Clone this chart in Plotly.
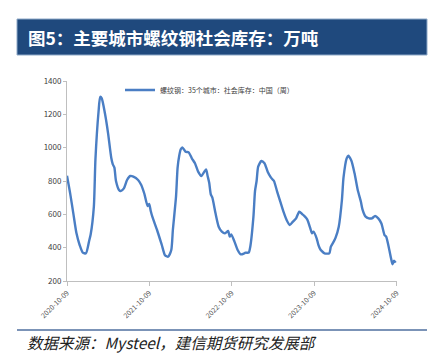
import pandas as pd
import plotly.graph_objects as go

# Week offsets from 2020-10-09 and stock values (10k tonnes)
weeks = [0, 2, 4, 6, 8, 10, 12, 14, 15, 17, 18, 20, 21, 22, 24, 26, 28, 29, 30, 31, 33, 34,
         36, 38, 40, 42, 45, 47, 49, 51, 52, 53, 54, 57, 60, 62, 64, 66, 67, 69, 70, 71,
         72, 73, 75, 77, 79, 81, 83, 85, 88, 89, 90, 91, 92, 94, 96, 98, 100, 102, 103,
         104, 106, 108, 110, 112, 113, 115, 116, 118, 119, 120, 121, 123, 125, 127, 129,
         130, 131, 133, 135, 137, 139, 141, 143, 145, 147, 149, 150, 152, 154, 155, 156,
         158, 159, 160, 161, 163, 166, 167, 169, 170, 172, 174, 175, 177, 178, 180, 182,
         184, 186, 187, 189, 191, 193, 195, 197, 199, 201, 202, 204, 205, 206, 207, 208]
values = [832, 726, 606, 486, 416, 370, 366, 440, 480, 646, 930, 1220, 1305, 1296, 1206,
          1086, 940, 900, 880, 800, 745, 740, 756, 806, 830, 826, 806, 776, 722, 650, 662,
          620, 586, 506, 416, 355, 346, 386, 506, 706, 880, 950, 990, 1002, 976, 972, 936,
          906, 856, 830, 870, 830, 790, 720, 700, 606, 526, 496, 486, 500, 466, 480, 436,
          386, 360, 365, 370, 370, 406, 586, 740, 800, 886, 920, 906, 856, 822, 810, 800,
          736, 676, 616, 566, 536, 556, 576, 616, 600, 592, 570, 516, 486, 496, 456, 420,
          396, 382, 366, 366, 406, 440, 460, 526, 686, 820, 936, 952, 922, 846, 746, 676,
          630, 586, 576, 576, 590, 576, 545, 475, 466, 386, 340, 300, 322, 310]

start = pd.Timestamp("2020-10-09")
dates = [start + pd.Timedelta(days=7 * w) for w in weeks]

tick_vals = ["2020-10-09", "2021-10-09", "2022-10-09", "2023-10-09", "2024-10-09"]
y_ticks = [200, 400, 600, 800, 1000, 1200, 1400]

series_name = "螺纹钢：35个城市：社会库存：中国（周）"
title_text = "图5：主要城市螺纹钢社会库存：万吨"
source_text = "数据来源：Mysteel，建信期货研究发展部"

fig = go.Figure()
fig.add_trace(go.Scatter(
    x=dates, y=values, mode="lines", name=series_name,
    line=dict(color="#4A7EC4", width=2.4, shape="spline", smoothing=0.6),
))

axis_col = "#BFBFBF"
PW, PH = 330, 200
fig.update_layout(
    width=445, height=361,
    margin=dict(l=67, r=48, t=81, b=80, autoexpand=False),
    paper_bgcolor="white", plot_bgcolor="white",
    font=dict(family="Noto Sans CJK SC, sans-serif", color="#404040"),
    showlegend=True,
    legend=dict(orientation="h", x=(120 - 67) / PW, y=(281 - 90) / PH,
                xanchor="left", yanchor="middle",
                font=dict(size=7, color="#404040"), bgcolor="rgba(0,0,0,0)",
                itemwidth=30),
    xaxis=dict(
        type="date", range=["2020-10-09", "2024-10-10"],
        tickvals=tick_vals, ticktext=tick_vals, tickangle=-45,
        tickfont=dict(size=7, color="#505050"),
        showline=True, linecolor=axis_col, linewidth=1,
        ticks="outside", tickcolor=axis_col, ticklen=4,
        showgrid=False, zeroline=False, automargin=False,
    ),
    yaxis=dict(
        range=[200, 1400], tickvals=y_ticks,
        tickfont=dict(size=8, color="#404040"),
        showline=True, linecolor=axis_col, linewidth=1,
        ticks="outside", tickcolor=axis_col, ticklen=3,
        showgrid=False, zeroline=False, automargin=False,
    ),
    shapes=[
        dict(type="rect", xref="paper", yref="paper", x0=(17 - 67) / PW, x1=(427 - 67) / PW,
             y0=(281 - 55) / PH, y1=(281 - 19) / PH,
             fillcolor="#1F497D", line=dict(color="#8EA9C8", width=1), layer="below"),
        dict(type="line", xref="paper", yref="paper", x0=(17 - 67) / PW, x1=(427 - 67) / PW,
             y0=(281 - 330) / PH, y1=(281 - 330) / PH,
             line=dict(color="#4F6F9F", width=1.5)),
    ],
    annotations=[
        dict(text="<b>" + title_text + "</b>", xref="paper", yref="paper",
             x=(26 - 67) / PW, y=(281 - 37) / PH, xanchor="left", yanchor="middle",
             showarrow=False, font=dict(size=17.5, color="white",
                                        family="Noto Sans CJK SC, sans-serif")),
        dict(text="<i>" + source_text + "</i>", xref="paper", yref="paper",
             x=(25 - 67) / PW, y=(281 - 342) / PH, xanchor="left", yanchor="middle",
             showarrow=False, font=dict(size=15.5, color="#222222",
                                        family="Noto Sans CJK SC, sans-serif")),
    ],
)

fig.write_html("out.html", config={"displayModeBar": False},
               post_script="document.body.style.margin='0';")
